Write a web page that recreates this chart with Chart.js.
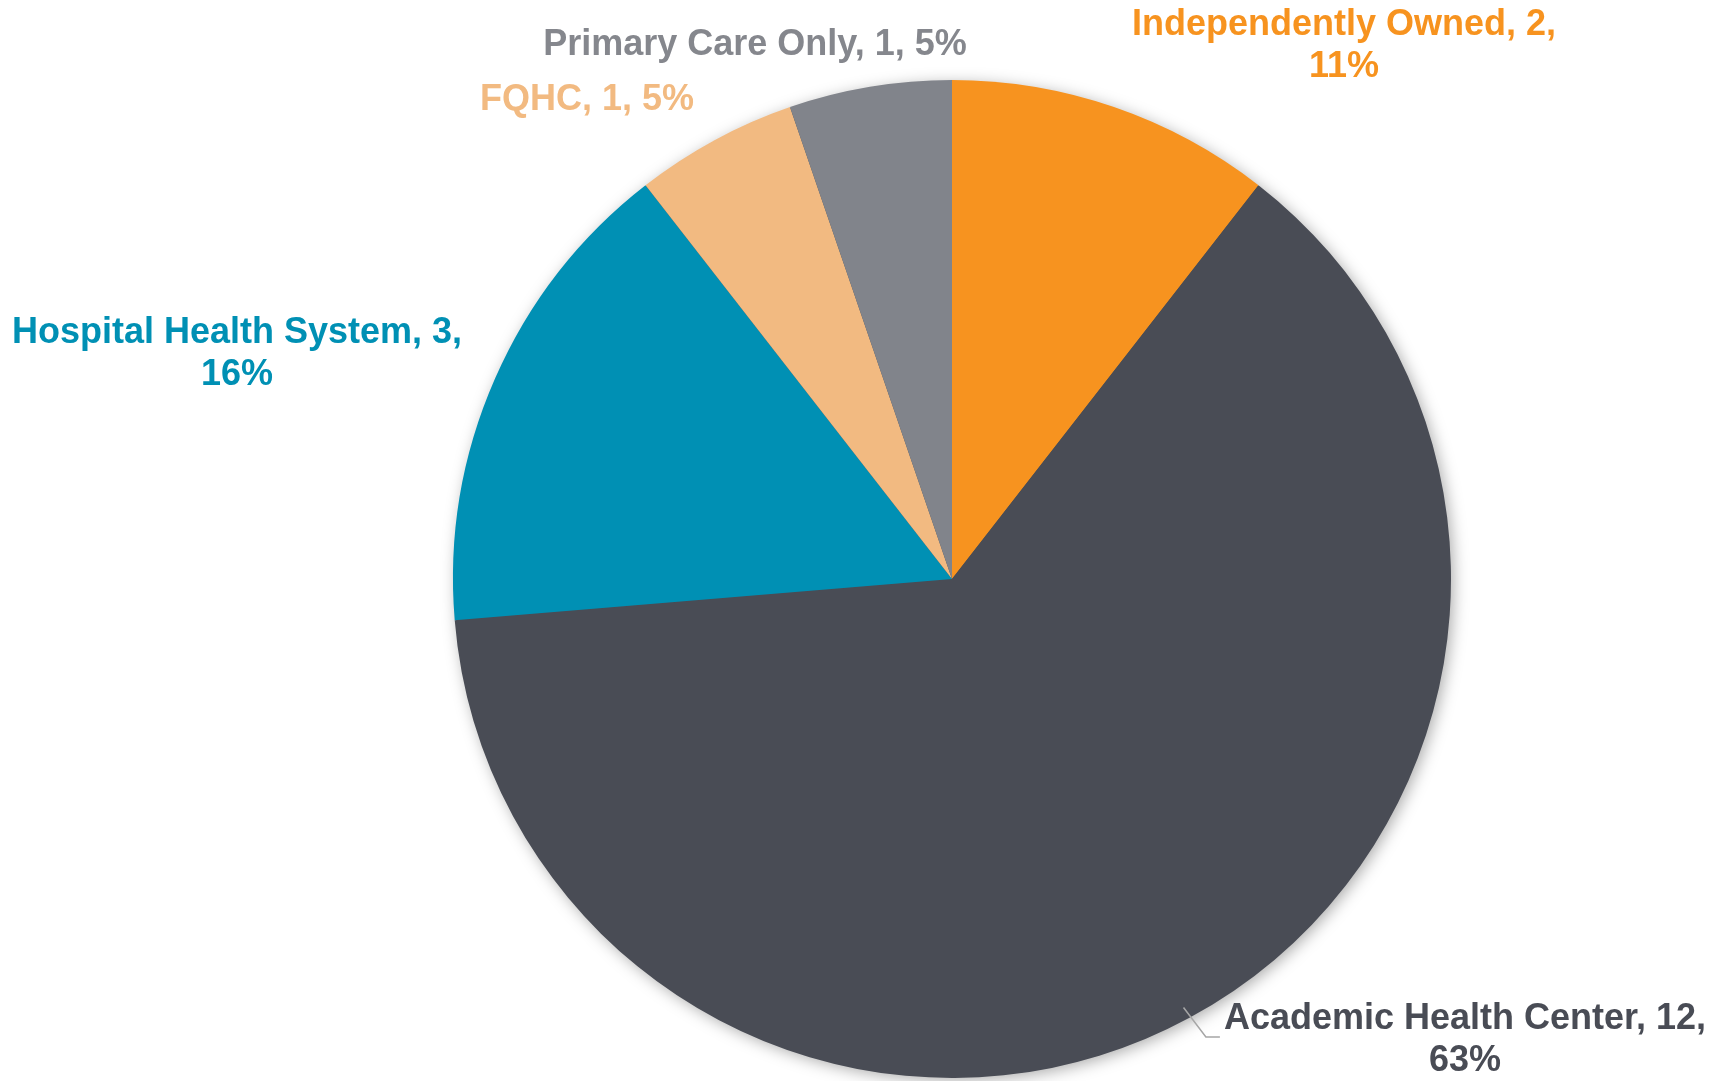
<!DOCTYPE html>
<html>
<head>
<meta charset="utf-8">
<style>
  html, body { margin: 0; padding: 0; background: #fff; }
  #wrap { width: 1713px; height: 1081px; position: relative; }
</style>
</head>
<body>
<div id="wrap"><canvas id="ownershipPie"></canvas></div>
<script src="https://cdn.jsdelivr.net/npm/chart.js@4/dist/chart.umd.min.js"></script>
<script>
   // Practice ownership categories, clockwise from 12 o'clock
   const categories = ['Independently Owned', 'Academic Health Center', 'Hospital Health System', 'FQHC', 'Primary Care Only'];
   const counts = [2, 12, 3, 1, 1];
   const sliceColors = ['#F7931F', '#494C55', '#0090B4', '#F2BA81', '#81848B'];
   const labelColors = ['#F7931F', '#494C55', '#0090B4', '#F2BA81', '#85878D'];

   // Where each data label sits (text centre of the first line) and whether it wraps
   const labelPos = [
       { x: 1344, y: 25, wrap: true },
       { x: 1465, y: 1019, wrap: true, leader: true },
       { x: 237, y: 333, wrap: true },
       { x: 587, y: 100, wrap: false },
       { x: 755, y: 45, wrap: false }
   ];

   const FONT = 'bold 36px "Liberation Sans", Arial, sans-serif';
   const LINE_H = 42;

   // Soft shadow under the whole pie, drawn before the slices
   const pieShadow = {
       id: 'pieShadow',
       beforeDatasetsDraw(chart) {
           const arc = chart.getDatasetMeta(0).data[0];
           if (!arc) return;
           const ctx = chart.ctx;
           ctx.save();
           ctx.shadowColor = 'rgba(0,0,0,0.35)';
           ctx.shadowBlur = 16;
           ctx.shadowOffsetX = 3;
           ctx.shadowOffsetY = 3;
           ctx.fillStyle = '#494C55';
           ctx.beginPath();
           ctx.arc(arc.x, arc.y, arc.outerRadius - 1, 0, Math.PI * 2);
           ctx.fill();
           ctx.restore();
       }
   };

   // "Name, count, pct%" labels with a leader line for the big slice
   const sliceLabels = {
       id: 'sliceLabels',
       afterDatasetsDraw(chart) {
           const ctx = chart.ctx;
           const data = chart.data.datasets[0].data;
           const total = data.reduce((a, b) => a + b, 0);
           const meta = chart.getDatasetMeta(0);
           ctx.save();
           ctx.font = FONT;
           ctx.textAlign = 'center';
           ctx.textBaseline = 'middle';
           chart.data.labels.forEach((name, i) => {
               const pct = Math.round(data[i] / total * 100) + '%';
               const p = labelPos[i];
               const lines = p.wrap ? [name + ', ' + data[i] + ',', pct] : [name + ', ' + data[i] + ', ' + pct];
               if (p.leader) {
                   const arc = meta.data[i];
                   const w = ctx.measureText(lines[0]).width;
                   const endX = p.x - w / 2 - 4;
                   const ang = Math.atan2(1025 - arc.y, 1193 - arc.x);
                   const sx = arc.x + Math.cos(ang) * (arc.outerRadius - 12);
                   const sy = arc.y + Math.sin(ang) * (arc.outerRadius - 12);
                   ctx.strokeStyle = '#A6A6A6';
                   ctx.lineWidth = 1.5;
                   ctx.beginPath();
                   ctx.moveTo(sx, sy);
                   ctx.lineTo(endX - 14, p.y + 18);
                   ctx.lineTo(endX, p.y + 18);
                   ctx.stroke();
               }
               ctx.fillStyle = labelColors[i];
               lines.forEach((t, k) => ctx.fillText(t, p.x, p.y + k * LINE_H));
           });
           ctx.restore();
       }
   };

   const ownershipPie = new Chart(document.getElementById('ownershipPie'), {
       type: 'pie',
       data: {
           labels: categories,
           datasets: [{
               data: counts,
               backgroundColor: sliceColors,
               hoverBackgroundColor: sliceColors,
               borderWidth: 0,
               hoverOffset: 0
           }]
       },
       options: {
           responsive: true,
           maintainAspectRatio: false,
           animation: false,
           events: [],
           layout: { padding: { left: 453, right: 262, top: 80, bottom: 3 } },
           plugins: {
               legend: { display: false },
               tooltip: { enabled: false },
               title: { display: false }
           }
       },
       plugins: [pieShadow, sliceLabels]
   });
</script>
</body>
</html>
